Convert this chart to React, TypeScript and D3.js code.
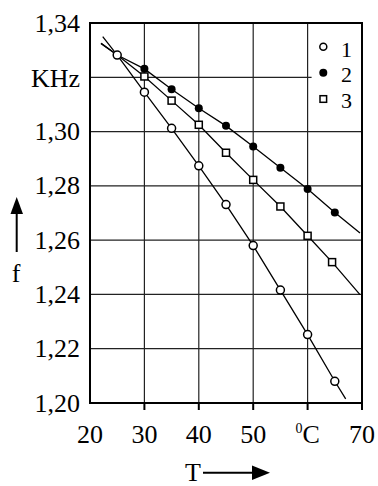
import React from "react";
import * as d3 from "d3";

const xTicks = [20, 30, 40, 50, 60, 70];
const xTickLabels = ["20", "30", "40", "50", "", "70"];
const yTicks = [1.2, 1.22, 1.24, 1.26, 1.28, 1.3, 1.32, 1.34];
const yTickLabels = ["1,20", "1,22", "1,24", "1,26", "1,28", "1,30", "KHz", "1,34"];

const temps1 = [25, 30, 35, 40, 45, 50, 55, 60, 65];
const series1 = [1.3282, 1.3145, 1.3012, 1.2874, 1.2731, 1.258, 1.2416, 1.2252, 1.208];
const temps2 = [30, 35, 40, 45, 50, 55, 60, 65];
const series2 = [1.3231, 1.3156, 1.3086, 1.3021, 1.2945, 1.2867, 1.2788, 1.2702];
const temps3 = [30, 35, 40, 45, 50, 55, 60, 64.5];
const series3 = [1.3203, 1.3114, 1.3025, 1.2922, 1.2822, 1.2724, 1.2616, 1.2519];

// extensions of the drawn curves beyond the measured points
const startT = [22.34, 22.02, 22.02];
const startF = [1.335, 1.3325, 1.3325];
const endT = [67.0, 69.63, 69.63];
const endF = [1.2015, 1.2626, 1.2399];

const legendLabels = ["1", "2", "3"];

const W = 378, H = 486;
const L = 90, R = 362, T = 23, B = 403;
const FONT = "Liberation Serif, DejaVu Serif, serif";

export default function App() {
  const x = d3.scaleLinear().domain([20, 70]).range([L, R]);
  const y = d3.scaleLinear().domain([1.2, 1.34]).range([B, T]);
  const line = d3.line<[number, number]>().x(d => x(d[0])).y(d => y(d[1]));
  const shared: [number, number] = [temps1[0], series1[0]];
  const pts1 = temps1.map((t, i) => [t, series1[i]] as [number, number]);
  const pts2 = [shared, ...temps2.map((t, i) => [t, series2[i]] as [number, number])];
  const pts3 = [shared, ...temps3.map((t, i) => [t, series3[i]] as [number, number])];
  const curves = [pts1, pts2, pts3].map((p, k) => [
    [startT[k], startF[k]] as [number, number],
    ...p,
    [endT[k], endF[k]] as [number, number],
  ]);
  const fs = 26;
  const legY = [46.7, 72.7, 99];
  const legBase = [56.5, 82, 107.5];
  const tp = { fontFamily: FONT, fontSize: fs, fill: "#000" };
  return (
    <svg width={W} height={H} style={{ position: "absolute", left: 0, top: 0, background: "#fff" }}>
      {/* grid */}
      {[30, 40, 50, 60].map(v => (
        <line key={"v" + v} x1={x(v)} x2={x(v)} y1={T} y2={B} stroke="#222" strokeWidth={1.2} />
      ))}
      {[1.22, 1.24, 1.26, 1.28, 1.3].map(v => (
        <line key={"h" + v} x1={L} x2={R} y1={y(v)} y2={y(v)} stroke="#222" strokeWidth={1.2} />
      ))}
      <line x1={L} x2={x(60) + 4} y1={y(1.32)} y2={y(1.32)} stroke="#222" strokeWidth={1.2} />
      {/* frame */}
      <rect x={L} y={T} width={R - L} height={B - T} fill="none" stroke="#000" strokeWidth={2} />
      {xTicks.slice(1).map(v => (
        <line key={"t" + v} x1={x(v)} x2={x(v)} y1={B} y2={B + 7} stroke="#000" strokeWidth={2} />
      ))}
      {/* curves */}
      {curves.map((c, i) => (
        <path key={"f" + i} d={line(c) || ""} fill="none" stroke="#000" strokeWidth={1.3} />
      ))}
      {/* markers */}
      {temps2.map((t, i) => (
        <circle key={"s2" + i} cx={x(t)} cy={y(series2[i])} r={4} fill="#000" />
      ))}
      {temps3.map((t, i) => (
        <rect key={"s3" + i} x={x(t) - 3.5} y={y(series3[i]) - 3.5} width={7} height={7}
          fill="#fff" stroke="#000" strokeWidth={1.5} />
      ))}
      {temps1.map((t, i) => (
        <circle key={"s1" + i} cx={x(t)} cy={y(series1[i])} r={4} fill="#fff" stroke="#000" strokeWidth={1.5} />
      ))}
      {/* y labels */}
      {yTicks.map((v, i) => (
        <text key={"yl" + v} x={80} y={y(v) + (i === 6 ? 9.5 : 8.5)} style={tp} textAnchor="end">
          {yTickLabels[i]}
        </text>
      ))}
      {/* x labels */}
      {xTicks.map((v, i) => (
        <text key={"xl" + v} x={x(v)} y={442.5} style={tp} textAnchor="middle">
          {xTickLabels[i]}
        </text>
      ))}
      <text x={x(60) - 12} y={442.5} style={tp}>
        <tspan style={{ fontSize: 14 }} dy={-10}>0</tspan>
        <tspan dy={10}>C</tspan>
      </text>
      {/* legend */}
      <circle cx={323.3} cy={legY[0]} r={3.5} fill="#fff" stroke="#000" strokeWidth={1.5} />
      <circle cx={323.3} cy={legY[1]} r={4} fill="#000" />
      <rect x={320} y={legY[2] - 3.3} width={6.6} height={6.6} fill="#fff" stroke="#000" strokeWidth={1.5} />
      {legendLabels.map((l, i) => (
        <text key={"lg" + i} x={341} y={legBase[i]} style={{ ...tp, fontSize: 22 }}>{l}</text>
      ))}
      {/* axis titles */}
      <line x1={16.7} x2={16.7} y1={252} y2={210} stroke="#000" strokeWidth={2} />
      <path d="M16.7,197 L10.5,214 L23,214 Z" fill="#000" />
      <text x={16} y={282} style={tp} textAnchor="middle">f</text>
      <text x={193} y={481} style={tp} textAnchor="middle">T</text>
      <line x1={203} x2={256} y1={472.7} y2={472.7} stroke="#000" strokeWidth={2} />
      <path d="M270,472.7 L252,465.5 L252,480 Z" fill="#000" />
    </svg>
  );
}
